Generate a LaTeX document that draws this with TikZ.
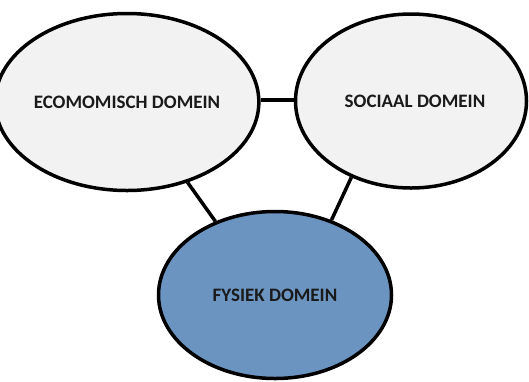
\documentclass[tikz,border=0pt]{standalone}
\usepackage{fontspec}
\setmainfont{Carlito}
\usetikzlibrary{shapes.geometric}
\definecolor{domgray}{HTML}{F2F2F2}
\definecolor{domblue}{HTML}{6B94C1}
\definecolor{domtext}{HTML}{1A1A1A}
\tikzset{
  domainbox/.style={ellipse, draw=black, line width=3.5pt, inner sep=0pt,
    font=\fontsize{19}{22}\selectfont\bfseries, text=domtext},
  link/.style={line width=3.5pt, draw=black}
}
\begin{document}
\begin{tikzpicture}[x=1pt, y=-1pt]
  \useasboundingbox[fill=white] (0,0) rectangle (529,381);
  % the three domains
  \node[domainbox, fill=domgray, minimum width=235pt, minimum height=177pt] (eco) at (127,102) {ECOMOMISCH DOMEIN};
  \node[domainbox, fill=domgray, minimum width=231pt, minimum height=174pt] (soc) at (411,101) {\hspace*{8pt}SOCIAAL DOMEIN};
  \node[domainbox, fill=domblue, minimum width=233pt, minimum height=167pt] (fys) at (275,295) {FYSIEK DOMEIN};
  % links between the domains
  \draw[link] (eco.east) ++(0,-2) coordinate (ecoE) -- (ecoE -| soc.west);
  \draw[link] (eco.307) -- (fys.129);
  \draw[link] (soc.232) -- (fys.53);
\end{tikzpicture}
\end{document}
